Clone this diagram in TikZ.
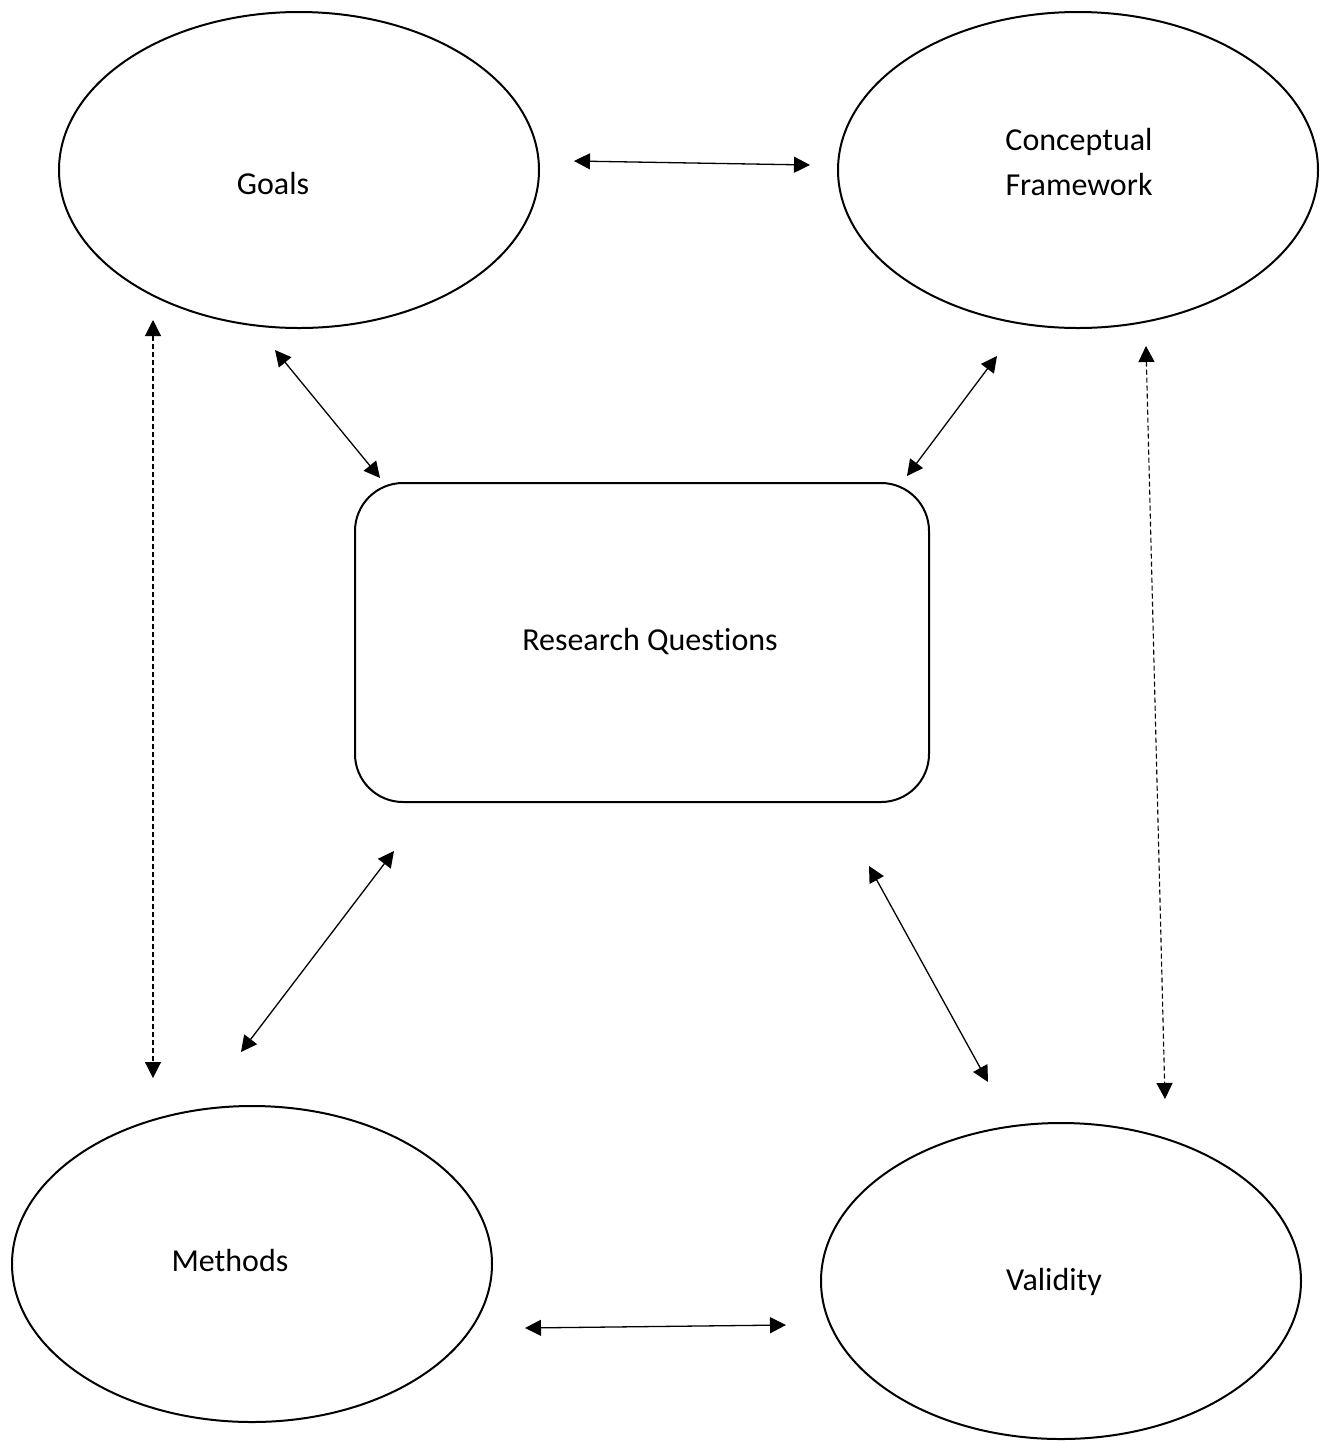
\documentclass[tikz,border=0pt]{standalone}
\usepackage{fontspec}
\setmainfont{Carlito}[Ligatures={NoCommon}]
\usetikzlibrary{arrows.meta,shapes.geometric}
\tikzset{
  ell/.style={draw,line width=2pt,ellipse,minimum width=480pt,minimum height=316pt,inner sep=0pt},
  rbox/.style={draw,line width=2pt,rounded corners=48pt,minimum width=574pt,minimum height=319pt,inner sep=0pt},
  lbl/.style={font=\fontsize{32}{45}\selectfont,align=center,inner sep=0pt},
  biarrow/.style={line width=1.3pt,{Triangle[length=16pt,width=16pt]}-{Triangle[length=16pt,width=16pt]}},
  dasharrow/.style={biarrow,dash pattern=on 5pt off 3pt,line width=1.1pt}
}
\begin{document}
\begin{tikzpicture}[x=1pt,y=-1pt]
\useasboundingbox (0,0) rectangle (1327,1441);
\node[ell] (goals) at (299,170) {};
\node[ell] (cf) at (1078,170) {};
\node[ell] (meth) at (252,1264) {};
\node[ell] (val) at (1061,1281) {};
\node[rbox] (rq) at (642,642.5) {};
\node[lbl] (tgoals) at (273,184) {Goals};
\node[lbl] (tcf) at (1079,162) {Conceptual\\Framework};
\node[lbl] (trq) at (650,641) {Research Questions};
\node[lbl] (tmeth) at (230,1260) {Methods};
\node[lbl] (tval) at (1054,1282) {Validity};
\coordinate (a1) at (574,161); \coordinate (a2) at (810,165);
\coordinate (b1) at (275,350); \coordinate (b2) at (380,478);
\coordinate (c1) at (997,356); \coordinate (c2) at (907,476);
\coordinate (d1) at (153,320); \coordinate (d2) at (153,1078);
\coordinate (e1) at (1146,346); \coordinate (e2) at (1165,1099);
\coordinate (f1) at (394,851); \coordinate (f2) at (241,1052);
\coordinate (g1) at (869,866); \coordinate (g2) at (988,1082);
\coordinate (h1) at (525,1328); \coordinate (h2) at (786,1325);
\draw[biarrow] (a1) -- (a2);
\draw[biarrow] (b1) -- (b2);
\draw[biarrow] (c1) -- (c2);
\draw[dasharrow] (d1) -- (d2);
\draw[dasharrow] (e1) -- (e2);
\draw[biarrow] (f1) -- (f2);
\draw[biarrow] (g1) -- (g2);
\draw[biarrow] (h1) -- (h2);
\end{tikzpicture}
\end{document}
